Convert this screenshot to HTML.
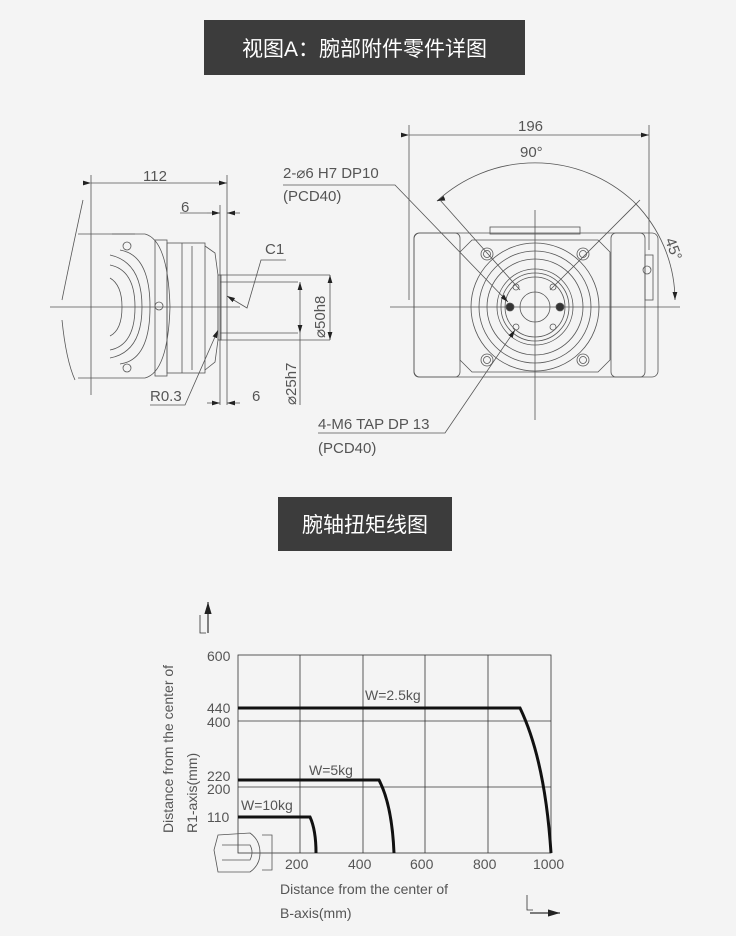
<!DOCTYPE html>
<html><head><meta charset="utf-8"><style>
body{margin:0;background:#f4f4f4;width:736px;height:936px;overflow:hidden;font-family:"Liberation Sans","Noto Sans CJK SC",sans-serif}
.t{position:absolute;background:#3c3c3c;color:#fff;font-size:21px;display:flex;align-items:center;justify-content:center;font-family:"Liberation Sans","Noto Sans CJK SC",sans-serif}
svg{position:absolute;left:0;top:0}
</style></head><body>
<div class="t" style="left:204px;top:20px;width:321px;height:55px">视图A：腕部附件零件详图</div>
<div class="t" style="left:278px;top:497px;width:174px;height:54px">腕轴扭矩线图</div>
<svg width="736" height="936" font-family="Liberation Sans,sans-serif" fill="none" stroke="#555" stroke-width="0.8">
<defs><marker id="a" markerWidth="10" markerHeight="6" refX="10" refY="3" orient="auto"><path d="M0,0L10,3L0,6z" fill="#222" stroke="none"/></marker></defs>
<!-- LEFT DRAWING -->
<line x1="91" y1="175" x2="91" y2="395"/>
<line x1="220" y1="205" x2="220" y2="405"/>
<line x1="227" y1="175" x2="227" y2="405"/>
<line x1="91" y1="183" x2="227" y2="183" marker-start="url(#a)" marker-end="url(#a)"/>
<line x1="180" y1="213" x2="207" y2="213"/><line x1="207" y1="213" x2="220" y2="213" marker-end="url(#a)"/><line x1="240" y1="213" x2="227" y2="213" marker-end="url(#a)"/>
<line x1="207" y1="403" x2="220" y2="403" marker-end="url(#a)"/><line x1="240" y1="403" x2="227" y2="403" marker-end="url(#a)"/>
<line x1="50" y1="307" x2="240" y2="307"/>
<path d="M83,200 Q70,260 62,300 M62,320 Q66,360 75,380"/>
<path d="M78,234 L145,234 Q168,240 170,307 Q168,372 145,378 L78,378"/>
<path d="M112,234 L135,234 M120,250 Q150,255 150,307 Q150,360 120,364 M110,255 Q142,262 142,307 Q142,352 110,358 M110,265 Q135,270 135,307 Q135,345 110,350 M110,278 Q122,285 122,307 Q122,330 110,336"/>
<circle cx="127" cy="246" r="4"/><circle cx="159" cy="306" r="4"/><circle cx="127" cy="368" r="4"/>
<rect x="155" y="240" width="12" height="136"/>
<rect x="167" y="243" width="38" height="130"/>
<line x1="182" y1="243" x2="182" y2="373"/><line x1="192" y1="246" x2="192" y2="370"/>
<path d="M205,246 L215,253 L218,275 L218,340 L215,362 L205,370"/>
<rect x="218" y="275" width="3" height="65"/>
<line x1="220" y1="282" x2="298" y2="282"/><line x1="220" y1="333" x2="298" y2="333"/>
<line x1="220" y1="275" x2="330" y2="275"/><line x1="220" y1="340" x2="330" y2="340"/>
<line x1="300" y1="307" x2="300" y2="282" marker-end="url(#a)"/><line x1="300" y1="307" x2="300" y2="333" marker-end="url(#a)"/>
<line x1="300" y1="333" x2="300" y2="405"/>
<line x1="330" y1="307" x2="330" y2="275" marker-end="url(#a)"/><line x1="330" y1="307" x2="330" y2="340" marker-end="url(#a)"/>
<path d="M286,260 L261,260 L247,308 L227,296" marker-end="url(#a)"/>
<path d="M150,405 L185,405 L218,330" marker-end="url(#a)"/>
<!-- RIGHT DRAWING -->
<line x1="409" y1="125" x2="409" y2="300"/><line x1="649" y1="125" x2="649" y2="250"/>
<line x1="409" y1="135" x2="649" y2="135" marker-start="url(#a)" marker-end="url(#a)"/>
<path d="M437,201 A145,145 0 0 1 633,201"/>
<line x1="445" y1="198" x2="437" y2="201" marker-end="url(#a)"/>
<path d="M633,201 A140,140 0 0 1 675,300" marker-end="url(#a)"/>
<line x1="535" y1="210" x2="535" y2="420"/><line x1="390" y1="307" x2="680" y2="307"/>
<line x1="440" y1="200" x2="520" y2="290"/><line x1="640" y1="200" x2="550" y2="290"/>
<rect x="414" y="233" width="244" height="144" rx="6"/>
<rect x="414" y="233" width="46" height="144" rx="5"/>
<rect x="611" y="233" width="34" height="144" rx="5"/>
<path d="M472,240 L598,240 L610,252 L610,360 L598,372 L472,372 L460,360 L460,252 Z"/>
<rect x="490" y="227" width="90" height="7"/>
<circle cx="535" cy="307" r="64"/><circle cx="535" cy="307" r="56"/><circle cx="535" cy="307" r="48"/>
<circle cx="535" cy="307" r="38"/><circle cx="535" cy="307" r="34"/><circle cx="535" cy="307" r="30"/><circle cx="535" cy="307" r="15"/>
<circle cx="487" cy="254" r="6"/><circle cx="583" cy="254" r="6"/><circle cx="487" cy="360" r="6"/><circle cx="583" cy="360" r="6"/>
<circle cx="487" cy="254" r="3.5"/><circle cx="583" cy="254" r="3.5"/><circle cx="487" cy="360" r="3.5"/><circle cx="583" cy="360" r="3.5"/>
<circle cx="516" cy="287" r="3"/><circle cx="553" cy="287" r="3"/><circle cx="516" cy="327" r="3"/><circle cx="553" cy="327" r="3"/>
<circle cx="510" cy="307" r="4" fill="#333"/><circle cx="560" cy="307" r="4" fill="#333"/>
<circle cx="647" cy="270" r="4"/><rect x="645" y="255" width="8" height="45"/>
<path d="M283,185 L395,185 L508,302" marker-end="url(#a)"/>
<path d="M318,433 L445,433 L515,330" marker-end="url(#a)"/>
<!-- CHART -->
<g stroke="#333">
<rect x="238" y="655" width="313" height="198"/>
<line x1="300" y1="655" x2="300" y2="853"/><line x1="363" y1="655" x2="363" y2="853"/><line x1="425" y1="655" x2="425" y2="853"/><line x1="488" y1="655" x2="488" y2="853"/>
<line x1="238" y1="721" x2="551" y2="721"/><line x1="238" y1="787" x2="551" y2="787"/>
<line x1="208" y1="633" x2="208" y2="602" stroke-width="1.2" marker-end="url(#a)"/>
<line x1="530" y1="913" x2="560" y2="913" stroke-width="1.2" marker-end="url(#a)"/>
<path d="M200,615 L200,633 L206,633 M527,895 L527,910 L533,910" stroke-width="0.8"/>
</g>
<g stroke="#111" stroke-width="3">
<path d="M238,708 L520,708 Q545,760 551,853"/>
<path d="M238,780 L379,780 Q392,805 394,853"/>
<path d="M238,817 L310,817 Q316,830 316,853"/>
</g>
<path d="M218,835 L250,833 Q260,840 260,853 Q260,865 250,872 L218,872 L214,850 Z M222,845 L250,845 Q254,852 250,860 L222,860 M262,835 L272,835 L272,870 L262,870" stroke="#555"/>
<g fill="#555" stroke="none" font-size="15">
<text x="143" y="181">112</text><text x="181" y="212">6</text><text x="252" y="401">6</text>
<text x="265" y="254">C1</text><text x="150" y="401">R0.3</text>
<text transform="translate(325,338) rotate(-90)">⌀50h8</text>
<text transform="translate(296,405) rotate(-90)">⌀25h7</text>
<text x="283" y="178">2-⌀6 H7 DP10</text><text x="283" y="201">(PCD40)</text>
<text x="518" y="131">196</text><text x="520" y="157">90°</text>
<text transform="translate(665,240) rotate(70)">45°</text>
<text x="318" y="429">4-M6 TAP DP 13</text><text x="318" y="453">(PCD40)</text>
<g font-size="14">
<text x="207" y="661">600</text><text x="207" y="713">440</text><text x="207" y="727">400</text>
<text x="207" y="781">220</text><text x="207" y="794">200</text><text x="207" y="822">110</text>
<text x="285" y="869">200</text><text x="348" y="869">400</text><text x="410" y="869">600</text><text x="473" y="869">800</text><text x="533" y="869">1000</text>
<text x="365" y="700">W=2.5kg</text><text x="309" y="775">W=5kg</text><text x="241" y="810">W=10kg</text>
<text x="280" y="894">Distance from the center of</text><text x="280" y="918">B-axis(mm)</text>
<text transform="translate(173,833) rotate(-90)">Distance from the center of</text>
<text transform="translate(197,833) rotate(-90)">R1-axis(mm)</text>
</g></g>
</svg>
</body></html>
